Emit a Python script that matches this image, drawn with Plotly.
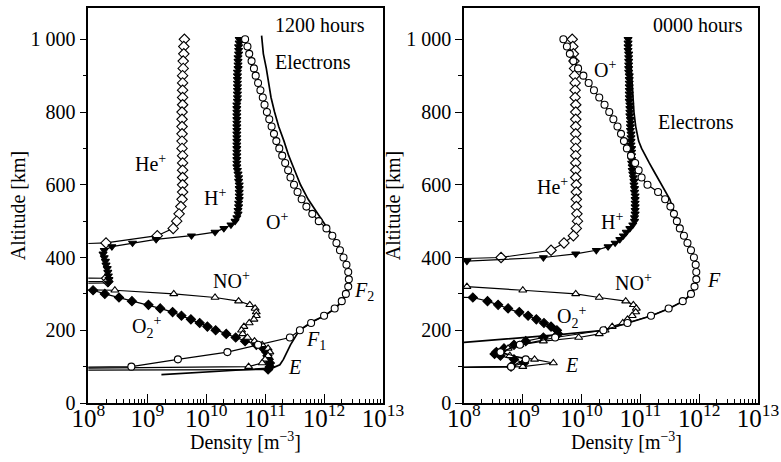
import plotly.graph_objects as go

FONT = "Liberation Serif"

# ---------------- data: (altitude km, log10 density m^-3) ----------------
# 1200 hours (left panel)
DAY_ELECTRONS = [(1010, 10.94), (960, 10.97), (920, 11.02), (880, 11.06), (840, 11.10), (800, 11.16),
                 (760, 11.23), (720, 11.32), (680, 11.40), (640, 11.50), (600, 11.60), (560, 11.73),
                 (520, 11.89), (500, 11.97), (480, 12.06), (460, 12.15), (440, 12.22), (420, 12.28),
                 (400, 12.34), (380, 12.39), (360, 12.42), (340, 12.43), (320, 12.42), (300, 12.38),
                 (280, 12.31), (260, 12.19), (240, 12.01), (224, 11.80), (200, 11.58), (180, 11.50),
                 (160, 11.43), (140, 11.37), (120, 11.31), (105, 11.25), (96, 11.12), (90, 10.5), (78, 9.24)]

DAY_O_PLUS = [(1000, 10.66), (980, 10.70), (960, 10.73), (940, 10.77), (920, 10.81), (900, 10.84),
              (880, 10.88), (860, 10.92), (840, 10.96), (820, 10.99), (800, 11.03), (780, 11.07),
              (760, 11.11), (740, 11.15), (720, 11.19), (700, 11.24), (680, 11.29), (660, 11.34),
              (640, 11.39), (620, 11.43), (600, 11.49), (580, 11.55), (560, 11.62), (540, 11.70),
              (520, 11.80), (500, 11.91), (480, 12.04), (460, 12.14), (440, 12.21), (420, 12.27),
              (400, 12.33), (380, 12.38), (360, 12.41), (340, 12.42), (320, 12.41), (300, 12.37),
              (280, 12.30), (260, 12.18), (240, 12.00), (220, 11.78), (200, 11.59), (180, 11.42),
              (160, 10.88), (140, 10.36), (120, 9.52), (100, 8.73), (90, 4.0)]

DAY_HE_PLUS = [(1000, 9.63), (980, 9.62), (960, 9.62), (940, 9.61), (920, 9.61), (900, 9.60),
               (880, 9.60), (860, 9.60), (840, 9.60), (820, 9.60), (800, 9.59), (780, 9.59),
               (760, 9.59), (740, 9.59), (720, 9.59), (700, 9.59), (680, 9.60), (660, 9.60),
               (640, 9.60), (620, 9.60), (600, 9.60), (580, 9.60), (560, 9.59), (540, 9.57),
               (520, 9.54), (500, 9.50), (480, 9.44), (460, 9.17), (440, 8.30), (420, 4.0),
               (345, 4.0), (343, 8.31), (334, 8.33), (332, 4.0)]

DAY_H_PLUS = [(1000, 10.56), (990, 10.56), (980, 10.55), (970, 10.55), (960, 10.55), (950, 10.54),
              (940, 10.54), (930, 10.54), (920, 10.54), (910, 10.53), (900, 10.53), (890, 10.53),
              (880, 10.53), (870, 10.53), (860, 10.53), (850, 10.53), (840, 10.53), (830, 10.53),
              (820, 10.52), (810, 10.52), (800, 10.52), (790, 10.52), (780, 10.52), (770, 10.52),
              (760, 10.52), (750, 10.52), (740, 10.52), (730, 10.52), (720, 10.52), (710, 10.52),
              (700, 10.52), (690, 10.52), (680, 10.52), (670, 10.52), (660, 10.52), (650, 10.52),
              (640, 10.53), (630, 10.54), (620, 10.55), (610, 10.55), (600, 10.56), (590, 10.56),
              (580, 10.56), (570, 10.56), (560, 10.56), (550, 10.55), (540, 10.55), (530, 10.54),
              (520, 10.54), (510, 10.52), (500, 10.49), (490, 10.42), (480, 10.30), (470, 10.15),
              (460, 9.75), (450, 9.15), (440, 8.75), (430, 8.40), (420, 8.27), (410, 8.25),
              (400, 8.27), (390, 8.29), (380, 8.30), (370, 8.32), (360, 8.33), (350, 8.34),
              (340, 8.35), (330, 8.34), (320, 4.0)]

DAY_NO_PLUS = [(320, 4.0), (310, 8.45), (300, 9.45), (290, 10.15), (280, 10.55), (270, 10.74),
               (260, 10.83), (250, 10.85), (240, 10.85), (230, 10.81), (220, 10.73), (210, 10.64),
               (200, 10.60), (190, 10.62), (180, 10.70), (170, 10.82), (160, 10.95), (150, 11.05),
               (140, 11.08), (130, 11.05), (120, 11.00), (110, 10.95), (100, 10.72), (90, 4.0)]

DAY_O2_PLUS = [(320, 4.0), (310, 8.08), (300, 8.28), (290, 8.52), (280, 8.74), (270, 9.02),
               (260, 9.22), (250, 9.43), (240, 9.58), (230, 9.74), (220, 9.89), (210, 10.02),
               (200, 10.16), (190, 10.34), (180, 10.50), (170, 10.66), (160, 10.85), (150, 10.97),
               (140, 11.02), (130, 11.04), (120, 11.06), (110, 11.08), (100, 11.08), (92, 11.05),
               (88, 4.0)]

# 0000 hours (right panel)
NIGHT_ELECTRONS = [(1005, 10.81), (950, 10.83), (900, 10.85), (850, 10.87), (800, 10.89), (760, 10.92),
                   (720, 10.97), (700, 11.02), (680, 11.08), (660, 11.15), (640, 11.22), (620, 11.29),
                   (600, 11.36), (580, 11.44), (560, 11.50), (540, 11.54), (520, 11.58), (500, 11.62),
                   (480, 11.68), (460, 11.75), (440, 11.81), (420, 11.87), (400, 11.92), (380, 11.95),
                   (360, 11.96), (340, 11.96), (320, 11.93), (300, 11.87), (280, 11.73), (260, 11.49),
                   (240, 11.19), (220, 10.80), (200, 10.38), (188, 9.62), (160, 7.5)]

NIGHT_O_PLUS = [(1000, 9.69), (980, 9.75), (960, 9.80), (940, 9.86), (920, 9.94), (900, 10.03),
                (880, 10.12), (860, 10.21), (840, 10.30), (820, 10.39), (800, 10.47), (780, 10.54),
                (760, 10.61), (740, 10.67), (720, 10.72), (700, 10.77), (680, 10.84), (660, 10.91),
                (640, 10.97), (620, 11.02), (600, 11.12), (580, 11.30), (560, 11.42), (540, 11.51),
                (520, 11.57), (500, 11.62), (480, 11.67), (460, 11.74), (440, 11.80), (420, 11.86),
                (400, 11.91), (380, 11.94), (360, 11.95), (340, 11.95), (320, 11.92), (300, 11.86),
                (280, 11.72), (260, 11.48), (240, 11.18), (220, 10.78), (200, 10.37), (180, 9.55),
                (160, 8.95), (140, 8.62), (120, 9.05), (100, 8.80), (90, 4.0)]

NIGHT_HE_PLUS = [(1000, 9.84), (980, 9.85), (960, 9.86), (940, 9.87), (920, 9.88), (900, 9.88),
                 (880, 9.89), (860, 9.89), (840, 9.89), (820, 9.90), (800, 9.90), (780, 9.90),
                 (760, 9.90), (740, 9.90), (720, 9.90), (700, 9.90), (680, 9.90), (660, 9.90),
                 (640, 9.90), (620, 9.90), (600, 9.91), (580, 9.91), (560, 9.91), (540, 9.91),
                 (520, 9.92), (500, 9.93), (480, 9.91), (460, 9.86), (440, 9.70), (420, 9.48),
                 (400, 8.63), (380, 4.0)]

NIGHT_H_PLUS = [(1000, 10.79), (990, 10.79), (980, 10.79), (970, 10.79), (960, 10.80), (950, 10.80),
                (940, 10.80), (930, 10.80), (920, 10.80), (910, 10.80), (900, 10.81), (890, 10.81),
                (880, 10.81), (870, 10.81), (860, 10.81), (850, 10.81), (840, 10.81), (830, 10.81),
                (820, 10.82), (810, 10.82), (800, 10.82), (790, 10.82), (780, 10.83), (770, 10.83),
                (760, 10.83), (750, 10.83), (740, 10.84), (730, 10.84), (720, 10.84), (710, 10.84),
                (700, 10.85), (690, 10.85), (680, 10.85), (670, 10.85), (660, 10.85), (650, 10.86),
                (640, 10.86), (630, 10.87), (620, 10.88), (610, 10.89), (600, 10.89), (590, 10.90),
                (580, 10.90), (570, 10.91), (560, 10.91), (550, 10.91), (540, 10.91), (530, 10.91),
                (520, 10.91), (510, 10.90), (500, 10.90), (490, 10.87), (480, 10.82), (470, 10.76),
                (460, 10.71), (450, 10.65), (440, 10.57), (430, 10.45), (420, 10.25), (410, 9.90),
                (400, 9.35), (390, 8.05), (380, 4.0)]

NIGHT_NO_PLUS = [(330, 4.0), (320, 8.05), (310, 9.00), (300, 9.90), (290, 10.30), (280, 10.75),
                 (270, 10.88), (260, 10.93), (250, 10.92), (240, 10.86), (230, 10.78), (220, 10.70),
                 (210, 10.52), (200, 10.40), (190, 10.30), (180, 9.95), (170, 9.35), (160, 8.95),
                 (150, 8.75), (140, 8.62), (130, 8.78), (120, 9.20), (110, 9.52), (100, 9.00), (90, 4.0)]

NIGHT_O2_PLUS = [(300, 4.0), (290, 8.15), (280, 8.40), (270, 8.58), (260, 8.75), (250, 8.94),
                 (240, 9.09), (230, 9.23), (220, 9.36), (210, 9.48), (200, 9.58), (190, 9.60),
                 (180, 9.35), (170, 9.05), (160, 8.85), (150, 8.68), (140, 8.55), (135, 8.52),
                 (130, 8.62), (120, 8.85), (110, 9.02), (100, 8.80), (90, 4.0)]

Y_TICKS = [0, 200, 400, 600, 800, 1000]
Y_TICK_TEXT = ["0", "200", "400", "600", "800", "1 000"]
X_TITLE = "Density [m<sup>−3</sup>]"
Y_TITLE = "Altitude [km]"

# labels: (text, log10 density, altitude)
DAY_LABELS = [("1200 hours", 11.93, 1039), ("Electrons", 11.81, 937), ("He<sup>+</sup>", 9.06, 660),
              ("H<sup>+</sup>", 10.15, 567), ("O<sup>+</sup>", 11.20, 501), ("NO<sup>+</sup>", 10.43, 339),
              ("O<sub>2</sub><sup>+</sup>", 8.98, 210), ("<i>F</i><sub>2</sub>", 12.67, 306),
              ("<i>F</i><sub>1</sub>", 11.87, 171), ("<i>E</i>", 11.50, 100)]
NIGHT_LABELS = [("0000 hours", 11.98, 1039), ("O<sup>+</sup>", 10.40, 918), ("Electrons", 11.95, 773),
                ("He<sup>+</sup>", 9.50, 597), ("H<sup>+</sup>", 10.52, 501), ("NO<sup>+</sup>", 10.89, 333),
                ("O<sub>2</sub><sup>+</sup>", 9.82, 237), ("<i>F</i>", 12.25, 339), ("<i>E</i>", 9.82, 105)]

# ---------------- figure ----------------
fig = go.Figure()


def add(pairs, xa, ya, symbol=None, filled=False, size=7, lw=1.2):
    alt = [p[0] for p in pairs]
    dens = [10 ** p[1] for p in pairs]
    if symbol is None:
        fig.add_trace(go.Scatter(x=dens, y=alt, mode="lines", xaxis=xa, yaxis=ya,
                                 line=dict(color="black", width=lw + 0.5),
                                 showlegend=False, hoverinfo="skip"))
    else:
        fig.add_trace(go.Scatter(x=dens, y=alt, mode="lines+markers", xaxis=xa, yaxis=ya,
                                 line=dict(color="black", width=lw),
                                 marker=dict(symbol=symbol, size=size,
                                             color="black" if filled else "white",
                                             line=dict(color="black", width=1.1)),
                                 showlegend=False, hoverinfo="skip"))


for xa, ya, E, OP, HE, HP, NO, O2 in [
    ("x", "y", DAY_ELECTRONS, DAY_O_PLUS, DAY_HE_PLUS, DAY_H_PLUS, DAY_NO_PLUS, DAY_O2_PLUS),
    ("x2", "y2", NIGHT_ELECTRONS, NIGHT_O_PLUS, NIGHT_HE_PLUS, NIGHT_H_PLUS, NIGHT_NO_PLUS, NIGHT_O2_PLUS),
]:
    add(E, xa, ya)
    add(HE, xa, ya, "diamond", False, 8)
    add(HP, xa, ya, "triangle-down", True, 7)
    add(O2, xa, ya, "diamond", True, 7)
    add(NO, xa, ya, "triangle-up", False, 7)
    add(OP, xa, ya, "circle", False, 7)

tickfont = dict(family=FONT, size=20, color="black")
titlefont = dict(family=FONT, size=20, color="black")


def xaxis_def(domain, anchor):
    return dict(domain=domain, anchor=anchor, type="log", range=[8, 13], dtick=1,
                exponentformat="power", showline=True, linecolor="black", linewidth=1.6,
                mirror=True, ticks="inside", ticklen=9, tickwidth=1.2, tickcolor="black",
                ticklabelstandoff=-7,
                minor=dict(ticks="inside", ticklen=4, tickwidth=1, tickcolor="black",
                           dtick="D1", showgrid=False),
                showgrid=False, zeroline=False, tickfont=tickfont,
                automargin=False)


def yaxis_def(anchor):
    return dict(domain=[0, 1], anchor=anchor, range=[0, 1086], tickvals=Y_TICKS,
                ticktext=Y_TICK_TEXT, showline=True, linecolor="black", linewidth=1.6,
                mirror=True, ticks="outside", ticklen=7, tickwidth=1.2, tickcolor="black",
                minor=dict(ticks="outside", ticklen=4, tickwidth=1, tickcolor="black",
                           dtick=100, showgrid=False),
                showgrid=False, zeroline=False, tickfont=tickfont,
                title=dict(text=Y_TITLE, font=titlefont, standoff=0),
                automargin=False)


annotations = []
for labels, xr, yr in [(DAY_LABELS, "x", "y"), (NIGHT_LABELS, "x2", "y2")]:
    for text, lx, ly in labels:
        annotations.append(dict(text=text, x=lx, y=ly, xref=xr, yref=yr, showarrow=False,
                                font=dict(family=FONT, size=20, color="black"),
                                xanchor="center", yanchor="middle"))
# x-axis titles placed under each panel
for xc in (246 / 781, 626 / 781):
    annotations.append(dict(text=X_TITLE, x=xc, y=-0.097, xref="paper", yref="paper",
                            showarrow=False, font=titlefont, xanchor="center", yanchor="middle"))

fig.update_layout(
    width=781, height=462,
    margin=dict(l=0, r=0, t=8, b=59),
    paper_bgcolor="white", plot_bgcolor="white",
    font=dict(family=FONT, size=20, color="black"),
    xaxis=xaxis_def([0.1131, 0.4904], "y"),
    yaxis=yaxis_def("x"),
    xaxis2=xaxis_def([0.5941, 0.9706], "y2"),
    yaxis2=yaxis_def("x2"),
    annotations=annotations,
    showlegend=False,
)

fig.write_html("out.html", config={"displayModeBar": False},
               post_script="document.body.style.margin='0px';document.body.style.overflow='hidden';")
